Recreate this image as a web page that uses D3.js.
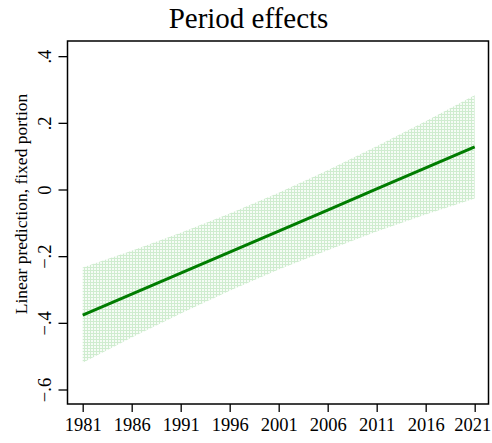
<!DOCTYPE html>
<html>
<head>
<meta charset="utf-8">
<script src="https://cdn.jsdelivr.net/npm/d3@7"></script>
<style>
  body { margin: 0; background: #fff; }
  text { font-family: "Liberation Serif", "Times New Roman", serif; fill: #000; }
</style>
</head>
<body>
<script>

// values
const years     = [1981, 1986, 1991, 1996, 2001, 2006, 2011, 2016, 2021];
const fitted    = [-0.377, -0.314, -0.251, -0.188, -0.125, -0.062, 0.002, 0.065, 0.128];
const ciUpper   = [-0.234, -0.184, -0.130, -0.072, -0.010, 0.058, 0.130, 0.205, 0.283];
const ciLower   = [-0.520, -0.444, -0.372, -0.304, -0.240, -0.182, -0.126, -0.075, -0.027];
const xTicks    = [1981, 1986, 1991, 1996, 2001, 2006, 2011, 2016, 2021];
const yTicks    = [-0.6, -0.4, -0.2, 0, 0.2, 0.4];

const WIDTH  = 492,
      HEIGHT = 443;

const PLOT = { left: 67.5, right: 488.5, top: 41, bottom: 404 };

const rows = years.map((y, i) => ({ year: y, fit: fitted[i], hi: ciUpper[i], lo: ciLower[i] }));

const x = d3.scaleLinear()
  .domain([1979.45, 2022.41])
  .range([PLOT.left, PLOT.right]);

const y = d3.scaleLinear()
  .domain([-0.6435, 0.4455])
  .range([PLOT.bottom, PLOT.top]);

const svg = d3.select('body').append('svg')
  .attr('width', WIDTH)
  .attr('height', HEIGHT);

// stippled fill like the Stata CI area
const pat = svg.append('defs').append('pattern')
  .attr('id', 'ci')
  .attr('patternUnits', 'userSpaceOnUse')
  .attr('width', 3)
  .attr('height', 3);
pat.append('rect').attr('width', 3).attr('height', 3).attr('fill', '#f6fcf6');
pat.append('rect').attr('width', 3).attr('height', 1).attr('fill', '#cfeccf');
pat.append('rect').attr('width', 1).attr('height', 3).attr('fill', '#cfeccf');

const area = d3.area()
  .x((d) => x(d.year))
  .y0((d) => y(d.lo))
  .y1((d) => y(d.hi));

svg.append('path')
  .datum(rows)
  .attr('d', area)
  .attr('fill', 'url(#ci)');

const line = d3.line()
  .x((d) => x(d.year))
  .y((d) => y(d.fit));

svg.append('path')
  .datum(rows)
  .attr('d', line)
  .attr('fill', 'none')
  .attr('stroke', '#007d00')
  .attr('stroke-width', 3);

// frame
svg.append('rect')
  .attr('x', PLOT.left)
  .attr('y', PLOT.top)
  .attr('width', PLOT.right - PLOT.left)
  .attr('height', PLOT.bottom - PLOT.top)
  .attr('fill', 'none')
  .attr('stroke', '#000')
  .attr('stroke-width', 1.5);

// x axis
const xAxis = svg.append('g')
  .attr('transform', `translate(0, ${PLOT.bottom})`)
  .call(d3.axisBottom(x).tickValues(xTicks).tickFormat(d3.format('d')).tickSize(8).tickPadding(6));

// y axis
const yAxis = svg.append('g')
  .attr('transform', `translate(${PLOT.left}, 0)`)
  .call(d3.axisLeft(y).tickValues(yTicks).tickSize(9)
    .tickFormat((d) => d === 0 ? '0' : d3.format('.1f')(d).replace('0.', '.')));

[xAxis, yAxis].forEach((g) => {
  g.select('.domain').remove();
  g.selectAll('.tick line').attr('stroke', '#000').attr('stroke-width', 1.3);
  g.selectAll('.tick text')
    .style('font-family', '"Liberation Serif", serif')
    .style('font-size', '18.5px');
});

// keep the last year label inside the window
xAxis.selectAll('.tick text')
  .filter((d) => d === 2021)
  .attr('dx', -2.5);

yAxis.selectAll('.tick text')
  .attr('x', null)
  .attr('dy', null)
  .attr('text-anchor', 'middle')
  .attr('transform', 'translate(-17, 0) rotate(-90)');

// titles
svg.append('text')
  .attr('x', 248.5)
  .attr('y', 28)
  .attr('text-anchor', 'middle')
  .style('font-size', '29px')
  .text('Period effects');

svg.append('text')
  .attr('transform', 'translate(27, 204) rotate(-90)')
  .attr('text-anchor', 'middle')
  .style('font-size', '17.5px')
  .text('Linear prediction, fixed portion');

</script>
</body>
</html>
